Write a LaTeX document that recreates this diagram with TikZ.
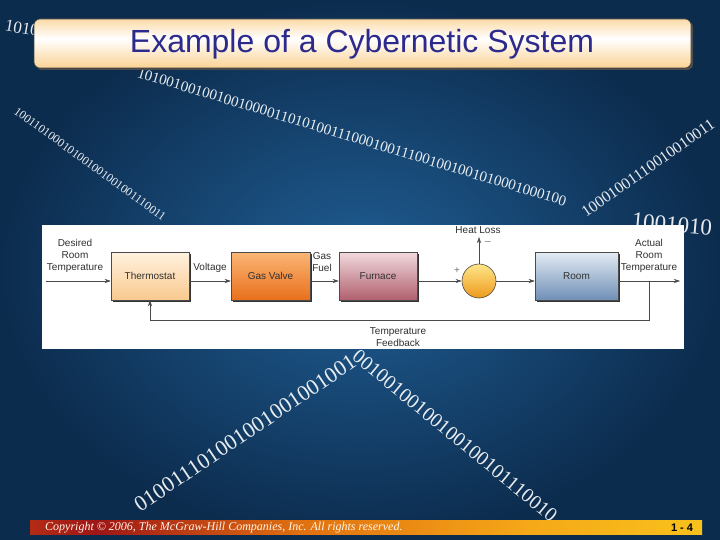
\documentclass[tikz,border=0pt]{standalone}
\usepackage{fontspec}
\setmainfont{Liberation Sans}
\newfontfamily\binfont{Liberation Serif}
\usetikzlibrary{arrows.meta,calc}
\definecolor{bgin}{HTML}{205E94}
\definecolor{bgout}{HTML}{0C2C4E}
\definecolor{titleor}{HTML}{F7AE3C}
\definecolor{titletext}{HTML}{2C2A8C}
\definecolor{linegray}{HTML}{4A4A4A}
\definecolor{txtgray}{HTML}{303030}
\definecolor{thA}{HTML}{FFF2E0}\definecolor{thB}{HTML}{F9C98E}
\definecolor{gvA}{HTML}{FBB676}\definecolor{gvB}{HTML}{E8701C}
\definecolor{fuA}{HTML}{F2DADE}\definecolor{fuB}{HTML}{B0606E}
\definecolor{roA}{HTML}{E4ECF4}\definecolor{roB}{HTML}{6F8FB6}
\definecolor{ciA}{HTML}{FFE68A}\definecolor{ciB}{HTML}{EE9A1C}
\definecolor{ftA}{HTML}{F29020}\definecolor{ftB}{HTML}{E05A12}
\definecolor{ftC}{HTML}{9E1616}\definecolor{ftD}{HTML}{E07010}
\definecolor{ftE}{HTML}{F5A818}\definecolor{ftF}{HTML}{FFF224}
\pgfdeclareverticalshading{titleshade}{100bp}{color(0bp)=(titleor); color(25bp)=(titleor!55!white); color(55bp)=(white); color(75bp)=(titleor!45!white); color(100bp)=(titleor)}
\pgfdeclarehorizontalshading{footshade}{100bp}{color(0bp)=(ftA); color(14bp)=(ftB); color(30bp)=(ftC); color(45bp)=(ftD); color(62bp)=(ftE); color(100bp)=(ftF)}
\tikzset{
  blk/.style={draw=linegray, line width=0.5pt, minimum width=#1, minimum height=48pt, inner sep=0pt, font=\fontsize{10}{12}\selectfont, text=txtgray},
  conn/.style={draw=linegray, line width=0.6pt},
  arr/.style={conn, -{Stealth[length=6pt,width=4pt]}},
  lbl/.style={font=\fontsize{10}{12}\selectfont, text=txtgray, align=center, inner sep=0pt},
  bin/.style={font=\binfont\fontsize{#1}{#1}\selectfont, text=white, opacity=0.9, inner sep=0pt}
}
\begin{document}
\begin{tikzpicture}[x=1pt,y=-1pt]
\useasboundingbox (0,0) rectangle (720,540);
% background
\shade[inner color=bgin, outer color=bgout] (0,0) rectangle (720,540);
% binary streaks
\node[bin=17, rotate=-10] (b0) at (22,28) {1010};
\node[bin=15, rotate=-16.8] (b1) at (352,137) {101001001001001000011010100111000100111001001001010001000100};
\node[bin=23, rotate=-5] (b1b) at (672,224) {1001010};
\node[bin=12, rotate=-36] (b2) at (90,164) {1001101000101001001001001110011};
\node[bin=16, rotate=35] (b3) at (648,168) {10001001110010010011};
\node[bin=22, rotate=34] (b4) at (245,433) {010011101001001001001001};
\node[bin=20, rotate=-39.5] (b5) at (455,436) {00100100100100100101110010};
% title
\fill[black!70, rounded corners=6pt] (36,21) rectangle (693,70);
\shade[shading=titleshade, draw=black!75, line width=0.6pt, rounded corners=6pt] (34,19) rectangle (691,68);
\node[font=\fontsize{32}{36}\selectfont, text=titletext, inner sep=0pt] (title) at (362,44) {Example of a Cybernetic System};
% white panel
\fill[white] (42,225) rectangle (684,349);
% box shadows
\foreach \xa/\xb in {111/189, 231/310, 339/417, 535/618}{
  \fill[black!80] (\xa+2,254) rectangle (\xb+2,302);
}
% blocks
\node[blk=78pt, top color=thA, bottom color=thB] (thermo) at (150,276) {Thermostat};
\node[blk=79pt, top color=gvA, bottom color=gvB] (valve) at (270.5,276) {Gas Valve};
\node[blk=78pt, top color=fuA, bottom color=fuB] (furnace) at (378,276) {Furnace};
\node[blk=83pt, top color=roA, bottom color=roB] (room) at (576.5,276) {Room};
\node[circle, draw=linegray, line width=0.6pt, minimum size=34pt, inner sep=0pt, top color=ciA, bottom color=ciB] (sum) at (479,281) {};
% connectors
\coordinate (in) at (46,281);
\coordinate (out) at (680,281);
\coordinate (fb) at (649,281);
\coordinate (fbc) at (649,320.5);
\coordinate (hl) at (479,237);
\draw[arr] (in) -- (thermo.west |- in);
\draw[arr] (thermo.east |- sum) -- (valve.west |- sum);
\draw[arr] (valve.east |- sum) -- (furnace.west |- sum);
\draw[arr] (furnace.east |- sum) -- (sum.west);
\draw[arr] (sum.east) -- (room.west |- sum);
\draw[arr] (room.east |- sum) -- (out);
\draw[arr] (sum.north) -- (hl);
\draw[arr] (fb) -- (fbc) -| (thermo.south);
% labels
\node[lbl] (ldes) at (75,256) {Desired\\Room\\Temperature};
\node[lbl] (lvol) at (210,268) {Voltage};
\node[lbl] (lgas) at (322,262) {Gas\\Fuel};
\node[lbl] (lheat) at (478,230) {Heat Loss};
\node[lbl, text=black!55] (lplus) at (457,271) {+};
\node[lbl, text=black!55] (lminus) at (488,243) {\textendash};
\node[lbl] (lact) at (649,256) {Actual\\Room\\Temperature};
\node[lbl] (lfb) at (398,337) {Temperature\\Feedback};
% footer
\shade[shading=footshade] (30,520) rectangle (702,534);
\node[anchor=west, inner sep=0pt, text=white!92!orange, font=\binfont\itshape\fontsize{12}{13}\selectfont] (copy) at (45,527.5) {Copyright \textcopyright{} 2006, The McGraw-Hill Companies, Inc. All rights reserved.};
\node[inner sep=0pt, font=\bfseries\fontsize{11}{12}\selectfont] (page) at (682,527.5) {1 - 4};
\end{tikzpicture}
\end{document}
